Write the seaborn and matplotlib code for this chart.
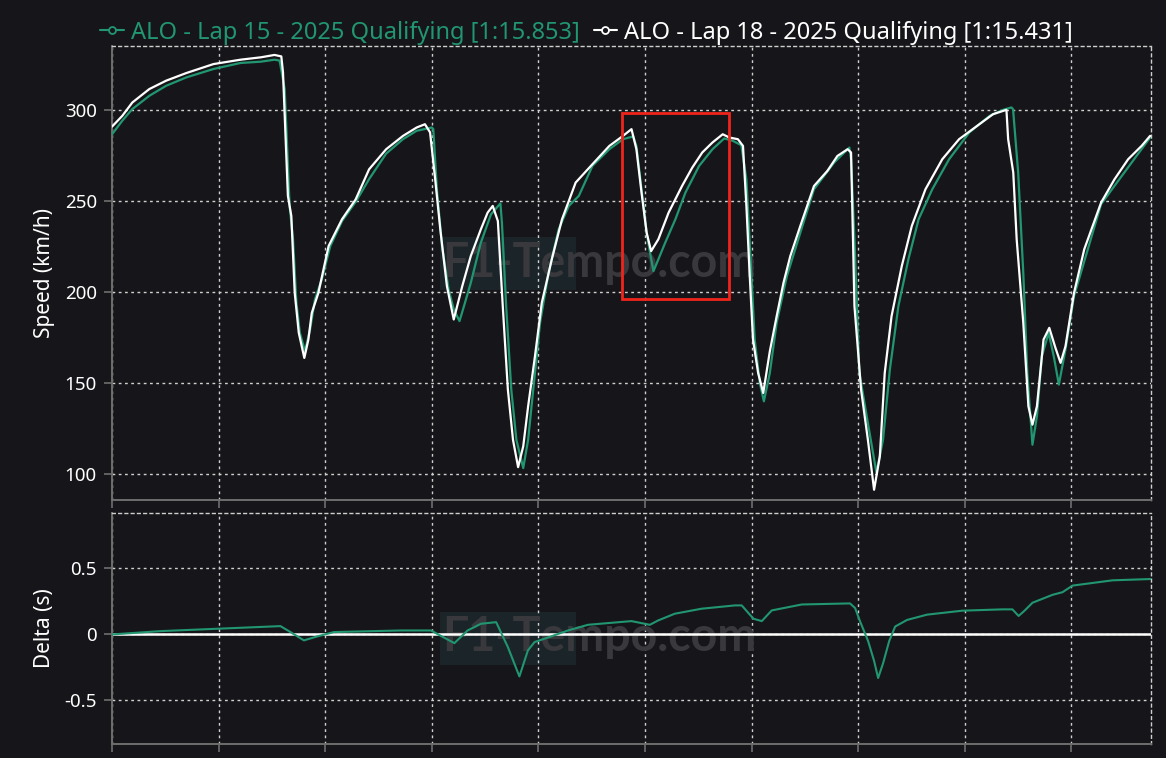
import pandas as pd
import matplotlib.pyplot as plt
import matplotlib.patches as patches
from matplotlib.lines import Line2D
import seaborn as sns

# Distance along the lap (m) and speed (km/h)
lap18_dist = [0, 48, 95, 175, 254, 349, 476, 603, 698, 762, 794, 802, 825, 841, 857, 876, 902, 921,
              937, 968, 1016, 1079, 1143, 1206, 1286, 1365, 1429, 1468, 1492, 1516, 1540, 1571,
              1603, 1643, 1683, 1730, 1762, 1786, 1810, 1833, 1857, 1881, 1905, 1929, 1952, 1984,
              2016, 2063, 2111, 2175, 2254, 2333, 2397, 2437, 2460, 2484, 2508, 2529, 2563, 2611,
              2674, 2722, 2769, 2817, 2865, 2896, 2936, 2960, 2976, 2991, 3007, 3031, 3055, 3086,
              3118, 3150, 3182, 3229, 3293, 3356, 3403, 3451, 3467, 3483, 3514, 3546, 3575, 3602,
              3625, 3657, 3705, 3752, 3816, 3895, 3974, 4069, 4133, 4196, 4204, 4228, 4244, 4275,
              4299, 4318, 4339, 4370, 4397, 4426, 4450, 4473, 4513, 4561, 4640, 4703, 4767, 4830,
              4870]
lap18_speed = [290.8, 296.7, 304.0, 311.4, 316.0, 320.2, 325.1, 327.5, 328.8, 330.1, 329.3, 320.5,
               252.8, 241.8, 199.6, 177.7, 163.9, 174.0, 188.6, 199.6, 225.3, 240.0, 250.9, 267.4,
               278.4, 285.7, 290.3, 292.1, 287.6, 261.9, 234.4, 203.3, 185.0, 203.3, 219.8, 234.4,
               243.6, 247.3, 239.0, 192.3, 146.5, 119.0, 104.0, 115.4, 137.4, 164.8, 194.1, 218.0,
               240.0, 260.1, 270.2, 280.2, 285.7, 289.4, 278.4, 254.6, 232.6, 222.5, 229.0, 243.6,
               258.2, 268.3, 276.6, 282.1, 286.6, 284.8, 283.9, 280.2, 247.3, 210.6, 174.0, 155.7,
               144.7, 167.6, 186.8, 205.1, 219.8, 236.3, 258.2, 266.5, 274.7, 278.4, 276.6, 192.3,
               146.5, 119.0, 91.6, 109.9, 155.7, 186.8, 214.3, 236.3, 256.4, 272.9, 283.9, 292.1,
               297.6, 300.0, 283.9, 265.6, 229.0, 183.2, 137.4, 127.3, 137.4, 174.0, 180.4, 169.4,
               161.2, 170.3, 199.6, 223.5, 249.1, 261.9, 272.9, 280.2, 285.7]

lap15_dist = [0, 48, 95, 175, 254, 349, 476, 603, 698, 762, 786, 810, 833, 849, 865, 881, 905, 929,
              952, 984, 1024, 1079, 1143, 1206, 1286, 1365, 1429, 1500, 1507, 1524, 1548, 1579,
              1603, 1630, 1651, 1683, 1730, 1778, 1822, 1829, 1849, 1873, 1897, 1929, 1952, 1976,
              2008, 2048, 2095, 2143, 2190, 2254, 2333, 2397, 2445, 2460, 2484, 2508, 2524, 2540,
              2563, 2595, 2643, 2690, 2754, 2817, 2872, 2912, 2952, 2976, 2999, 3015, 3039, 3058,
              3086, 3118, 3166, 3229, 3293, 3388, 3459, 3467, 3483, 3506, 3546, 3586, 3617, 3649,
              3689, 3736, 3784, 3848, 3927, 4022, 4117, 4180, 4219, 4227, 4251, 4275, 4294, 4318,
              4339, 4362, 4394, 4418, 4442, 4473, 4513, 4640, 4703, 4870]
lap15_speed = [286.6, 294.0, 300.4, 307.7, 313.2, 317.8, 322.4, 325.7, 326.4, 327.5, 327.0, 311.4,
               247.3, 229.0, 194.1, 177.7, 167.6, 179.5, 196.0, 207.0, 225.3, 239.0, 249.5, 262.0,
               276.0, 283.9, 288.5, 290.3, 289.5, 256.4, 225.3, 201.5, 190.5, 184.1, 192.3, 205.1,
               227.1, 242.7, 248.7, 238.1, 192.3, 146.5, 119.0, 103.5, 119.0, 146.5, 183.2, 210.6,
               234.4, 247.3, 252.8, 269.3, 278.4, 283.9, 285.4, 280.2, 256.4, 232.6, 221.6, 211.5,
               218.0, 227.1, 240.0, 254.6, 269.2, 278.4, 284.3, 283.0, 280.6, 261.9, 210.6, 174.0,
               150.2, 140.1, 155.7, 183.2, 208.8, 232.6, 256.4, 271.1, 279.3, 272.9, 228.9, 155.7,
               128.2, 101.0, 119.0, 157.5, 192.3, 218.0, 240.0, 256.4, 272.9, 287.6, 296.7, 300.0,
               301.3, 300.4, 265.6, 210.6, 155.7, 116.3, 131.9, 164.8, 177.7, 164.8, 149.3, 168.5,
               197.8, 248.2, 258.3, 284.8]

# Time delta (s) of lap 15 against lap 18
delta_dist = [0, 226, 492, 790, 837, 900, 963, 1041, 1355, 1496, 1606, 1668, 1731, 1802, 1857, 1911,
              1951, 1982, 2060, 2139, 2233, 2327, 2437, 2523, 2562, 2640, 2766, 2923, 2954, 3009,
              3048, 3095, 3236, 3462, 3486, 3509, 3547, 3575, 3594, 3617, 3646, 3674, 3730, 3824,
              3989, 4177, 4224, 4253, 4281, 4318, 4365, 4412, 4459, 4506, 4600, 4694, 4874]
delta_time = [0.0, 0.025, 0.043, 0.063, 0.018, -0.045, -0.015, 0.018, 0.03, 0.03, -0.066, 0.03,
              0.081, 0.093, -0.096, -0.318, -0.121, -0.058, -0.015, 0.03, 0.073, 0.086, 0.101,
              0.073, 0.106, 0.157, 0.195, 0.22, 0.22, 0.119, 0.101, 0.182, 0.227, 0.235, 0.2, 0.1,
              -0.05, -0.2, -0.33, -0.22, -0.05, 0.06, 0.11, 0.15, 0.18, 0.19, 0.19, 0.14, 0.18,
              0.24, 0.27, 0.30, 0.32, 0.37, 0.39, 0.41, 0.42]

lap15_label = 'ALO - Lap 15 - 2025 Qualifying [1:15.853]'
lap18_label = 'ALO - Lap 18 - 2025 Qualifying [1:15.431]'

x_ticks = [0, 500, 1000, 1500, 2000, 2500, 3000, 3500, 4000, 4500]
speed_ticks = [100, 150, 200, 250, 300]
delta_ticks = [-0.5, 0, 0.5]
delta_tick_labels = ['-0.5', '0', '0.5']

BG = '#16161a'
GREEN = '#219670'
GRID = '#cfcfcf'
SPINE = '#6e6e6e'

sns.set_theme(style='dark', rc={'axes.facecolor': BG, 'figure.facecolor': BG,
                                'axes.unicode_minus': False})
plt.rcParams['font.family'] = ['Noto Sans', 'DejaVu Sans']

speed_df = pd.concat([
    pd.DataFrame({'dist': lap15_dist, 'speed': lap15_speed, 'lap': lap15_label}),
    pd.DataFrame({'dist': lap18_dist, 'speed': lap18_speed, 'lap': lap18_label}),
])
delta_df = pd.DataFrame({'dist': delta_dist, 'delta': delta_time})

fig = plt.figure(figsize=(11.66, 7.58), dpi=100, facecolor=BG)
ax1 = fig.add_axes([0.0961, 0.3404, 0.8910, 0.5989])
ax2 = fig.add_axes([0.0961, 0.0185, 0.8910, 0.3047])

sns.lineplot(data=speed_df, x='dist', y='speed', hue='lap', palette=[GREEN, 'white'],
             estimator=None, linewidth=1.6, legend=False, ax=ax1, zorder=3)
sns.lineplot(data=delta_df, x='dist', y='delta', color=GREEN, estimator=None,
             linewidth=1.5, ax=ax2, zorder=3)
ax2.axhline(0, color='white', linewidth=1.8, zorder=2)


def style_axis(ax):
    ax.set_facecolor(BG)
    ax.set_xlim(0, 4874)
    ax.set_xticks(x_ticks)
    ax.set_xticklabels([])
    ax.set_xlabel('')
    ax.grid(True, color=GRID, linestyle=(0, (2, 2.5)), linewidth=1.0)
    for s in ['left', 'bottom']:
        ax.spines[s].set_visible(True)
        ax.spines[s].set_color(SPINE)
        ax.spines[s].set_linewidth(1.4)
    for s in ['top', 'right']:
        ax.spines[s].set_visible(True)
        ax.spines[s].set_color(GRID)
        ax.spines[s].set_linestyle((0, (2, 2.5)))
        ax.spines[s].set_linewidth(1.0)
    ax.tick_params(axis='both', colors=SPINE, labelcolor='white', length=6, width=1.2,
                   labelsize=13.5, pad=5, bottom=True, left=True)


def watermark(ax, y_text, box_y0, box_h):
    ax.add_patch(patches.Rectangle((0.316, box_y0), 0.131, box_h, transform=ax.transAxes,
                                   facecolor='#1b2529', edgecolor='none', zorder=0.5))
    ax.text(0.318, y_text, 'F1-Tempo.com', transform=ax.transAxes, ha='left', va='center',
            fontsize=33.5, color='#38383d', family='Lato', fontweight='bold', zorder=0.6)


style_axis(ax1)
ax1.set_ylim(86, 335)
ax1.set_yticks(speed_ticks)
ax1.set_ylabel('Speed (km/h)', color='white', fontsize=15, labelpad=7)
watermark(ax1, 0.523, 0.463, 0.116)

style_axis(ax2)
ax2.set_ylim(-0.83, 0.92)
ax2.set_yticks(delta_ticks)
ax2.set_yticklabels(delta_tick_labels)
ax2.set_ylabel('Delta (s)', color='white', fontsize=15, labelpad=7)
watermark(ax2, 0.465, 0.342, 0.231)

# red box highlighting the corner
ax1.add_patch(patches.Rectangle((2394, 196), 502, 102.2, fill=False, edgecolor='#f0241b',
                                linewidth=2.0, zorder=4))

handles = [Line2D([0], [0], color=GREEN, lw=1.5, marker='o', markersize=5,
                  markerfacecolor=BG, markeredgewidth=1.3),
           Line2D([0], [0], color='white', lw=1.5, marker='o', markersize=5,
                  markerfacecolor=BG, markeredgewidth=1.3)]
fig.legend(handles, [lap15_label, lap18_label], loc='center', bbox_to_anchor=(0.503, 0.957),
           ncol=2, frameon=False, fontsize=17, labelcolor=[GREEN, 'white'],
           handlelength=1.0, handletextpad=0.3, columnspacing=0.6)

fig.savefig('out.png', dpi=100, facecolor=BG)
